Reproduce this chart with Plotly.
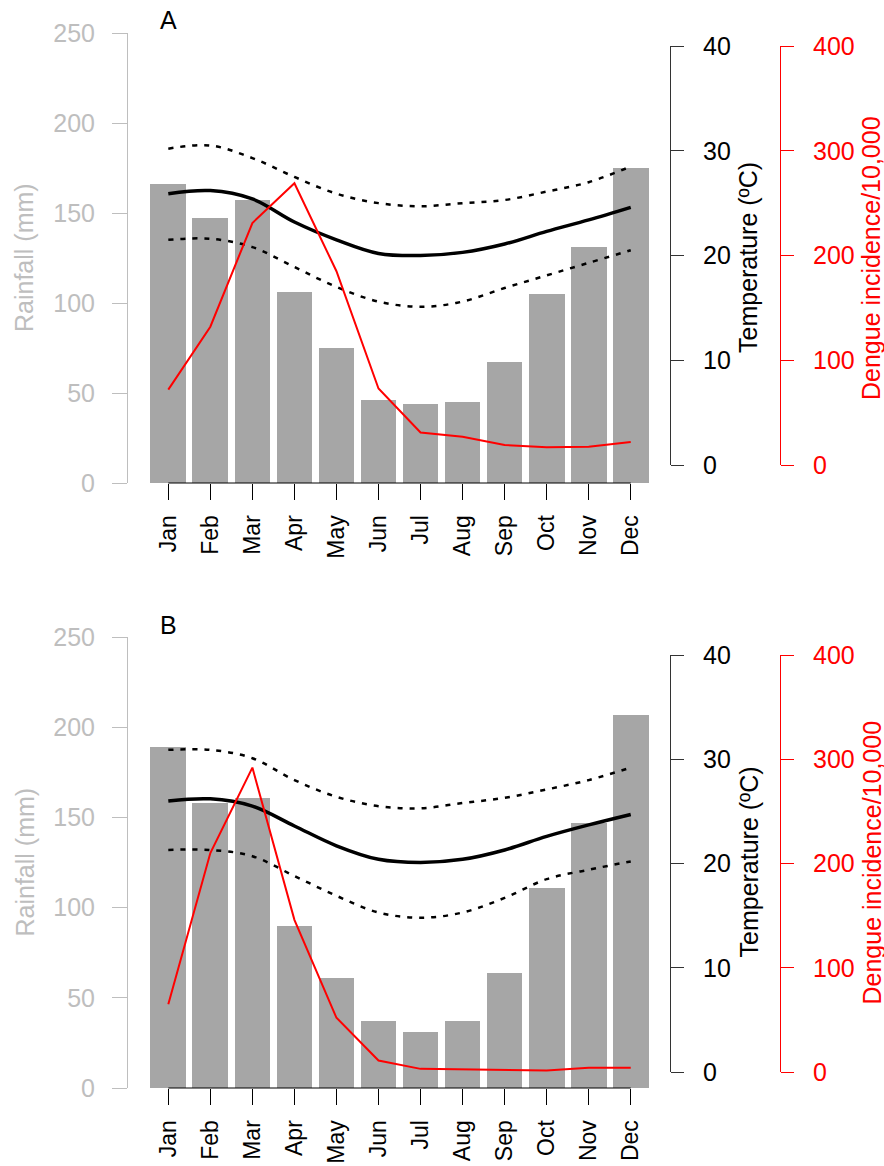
import plotly.graph_objects as go

# ---------------- data ----------------
months = ['Jan', 'Feb', 'Mar', 'Apr', 'May', 'Jun', 'Jul', 'Aug', 'Sep', 'Oct', 'Nov', 'Dec']

rain_a = [166, 147, 157, 106, 75, 46, 44, 45, 67, 105, 131, 175]
temp_mean_a = [25.9, 26.2, 25.4, 23.2, 21.5, 20.2, 20.0, 20.3, 21.1, 22.3, 23.4, 24.6]
temp_max_a = [30.2, 30.5, 29.3, 27.5, 25.9, 25.0, 24.7, 25.0, 25.3, 26.1, 27.0, 28.5]
temp_min_a = [21.5, 21.6, 20.8, 18.9, 17.0, 15.6, 15.1, 15.6, 16.9, 18.1, 19.3, 20.5]
dengue_a = [72, 132, 231, 269, 185, 73, 31, 27, 19, 17, 17.5, 22]

rain_b = [189, 158, 161, 90, 61, 37, 31, 37, 64, 111, 147, 207]
temp_mean_b = [26.0, 26.2, 25.5, 23.6, 21.7, 20.4, 20.1, 20.4, 21.3, 22.6, 23.7, 24.7]
temp_max_b = [30.9, 30.9, 30.1, 28.0, 26.4, 25.5, 25.3, 25.8, 26.3, 27.1, 28.0, 29.2]
temp_min_b = [21.3, 21.3, 20.7, 18.8, 16.9, 15.3, 14.8, 15.3, 16.7, 18.5, 19.4, 20.2]
dengue_b = [65, 210, 292, 146, 52, 11, 3, 2.5, 2, 1.5, 4, 4]

rain_ticks = [0, 50, 100, 150, 200, 250]
temp_ticks = [0, 10, 20, 30, 40]
dengue_ticks = [0, 100, 200, 300, 400]

# ---------------- layout helpers ----------------
W, H = 884, 1166
FONT = "Liberation Sans, Arial, sans-serif"
FS = 25
XFS = 23
GREY = "#BEBEBE"
BAR = "#A6A6A6"
RED = "#FF0000"

def px(x):
    return x / W

def py(y):
    return 1 - y / H

idx = list(range(len(months)))
X0, DX = 168.3, 42.04          # pixel of first month centre, pixel per month
XL, XR = 128, 670              # x-domain pixels

panels = [
    dict(label='A', rain=rain_a, tmean=temp_mean_a, tmax=temp_max_a, tmin=temp_min_a, deng=dengue_a,
         rain_top=33, rain_bot=483, temp_top=46, temp_bot=465, lab_y=20),
    dict(label='B', rain=rain_b, tmean=temp_mean_b, tmax=temp_max_b, tmin=temp_min_b, deng=dengue_b,
         rain_top=637, rain_bot=1088, temp_top=655, temp_bot=1072, lab_y=625),
]

fig = go.Figure()
layout = dict(
    width=W, height=H, autosize=False,
    margin=dict(l=0, r=0, t=0, b=0, pad=0, autoexpand=False),
    paper_bgcolor='white', plot_bgcolor='rgba(0,0,0,0)',
    showlegend=False, bargap=0,
    font=dict(family=FONT, size=FS, color='black'),
)
annotations = []
shapes = []

for i, p in enumerate(panels):
    xn = 'x' if i == 0 else 'x2'
    yr = 'y' if i == 0 else f'y{3*i+1}'
    yt = f'y{3*i+2}'
    yd = f'y{3*i+3}'
    xkey = 'xaxis' if i == 0 else 'xaxis2'
    yrkey = 'yaxis' if i == 0 else f'yaxis{3*i+1}'
    ytkey = f'yaxis{3*i+2}'
    ydkey = f'yaxis{3*i+3}'

    fig.add_trace(go.Bar(x=idx, y=p['rain'], width=0.85, marker=dict(color=BAR, line=dict(width=0)),
                         xaxis=xn, yaxis=yr))
    for series, dash, w in [(p['tmax'], '5px,7px', 2.5), (p['tmin'], '5px,7px', 2.5), (p['tmean'], 'solid', 3.5)]:
        fig.add_trace(go.Scatter(x=idx, y=series, mode='lines',
                                 line=dict(color='black', width=w, dash=dash, shape='spline', smoothing=1.0),
                                 xaxis=xn, yaxis=yt))
    fig.add_trace(go.Scatter(x=idx, y=p['deng'], mode='lines', line=dict(color=RED, width=2),
                             xaxis=xn, yaxis=yd))

    layout[xkey] = dict(
        domain=[px(XL), px(XR)], range=[(XL - X0) / DX, (XR - X0) / DX], anchor=yr,
        showline=False, showgrid=False, zeroline=False, automargin=False,
        ticks='outside', ticklen=16, tickcolor='black', tickwidth=1,
        tickvals=idx, ticktext=months, tickangle=-90, ticklabelstandoff=6,
        tickfont=dict(family=FONT, size=XFS, color='black'),
    )
    layout[yrkey] = dict(
        domain=[py(p['rain_bot']), py(p['rain_top'])], range=[0, 250], anchor=xn,
        showline=True, linecolor=GREY, linewidth=1, showgrid=False, zeroline=False, automargin=False,
        ticks='outside', ticklen=15, tickcolor=GREY, tickvals=rain_ticks, ticklabelstandoff=12,
        tickfont=dict(family=FONT, size=FS, color=GREY),
    )
    layout[ytkey] = dict(
        domain=[py(p['temp_bot']), py(p['temp_top'])], range=[0, 40], anchor='free', position=px(670),
        side='right', showline=True, linecolor='#333333', linewidth=1, showgrid=False, zeroline=False,
        automargin=False,
        ticks='outside', ticklen=13, tickcolor='#333333', tickvals=temp_ticks, ticklabelstandoff=14,
        tickfont=dict(family=FONT, size=FS, color='black'),
    )
    layout[ydkey] = dict(
        domain=[py(p['temp_bot']), py(p['temp_top'])], range=[0, 400], anchor='free', position=px(780),
        side='right', showline=True, linecolor=RED, linewidth=1, showgrid=False, zeroline=False,
        automargin=False,
        ticks='outside', ticklen=13, tickcolor=RED, tickvals=dengue_ticks, ticklabelstandoff=14,
        tickfont=dict(family=FONT, size=FS, color=RED),
    )

    # x axis line spans first to last month only (R style)
    shapes.append(dict(type='line', xref=xn, yref='paper', x0=idx[0], x1=idx[-1],
                       y0=py(p['rain_bot']), y1=py(p['rain_bot']), line=dict(color='black', width=1)))

    mid_r = (p['rain_top'] + p['rain_bot']) / 2
    annotations += [
        dict(text=p['label'], x=px(168), y=py(p['lab_y']), xref='paper', yref='paper', showarrow=False,
             xanchor='center', yanchor='middle', font=dict(family=FONT, size=FS, color='black')),
        dict(text='Rainfall (mm)', x=px(24), y=py(mid_r), xref='paper', yref='paper', showarrow=False,
             textangle=-90, xanchor='center', yanchor='middle', font=dict(family=FONT, size=FS, color=GREY)),
        dict(text='Temperature (ºC)', x=px(748), y=py(mid_r), xref='paper', yref='paper', showarrow=False,
             textangle=-90, xanchor='center', yanchor='middle', font=dict(family=FONT, size=FS, color='black')),
        dict(text='Dengue incidence/10,000', x=px(871), y=py(mid_r), xref='paper', yref='paper',
             showarrow=False, textangle=-90, xanchor='center', yanchor='middle',
             font=dict(family=FONT, size=FS, color=RED)),
    ]

layout['annotations'] = annotations
layout['shapes'] = shapes
fig.update_layout(**layout)
fig.write_html("out.html")
